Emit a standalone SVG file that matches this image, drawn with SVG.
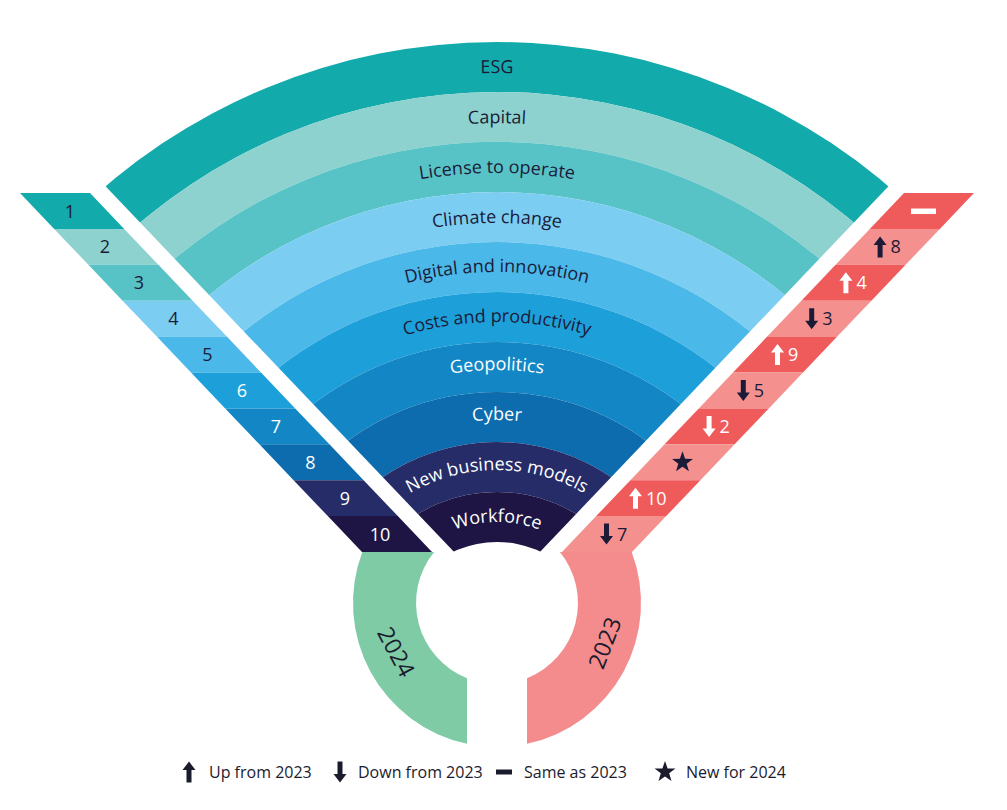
<svg xmlns="http://www.w3.org/2000/svg" xmlns:xlink="http://www.w3.org/1999/xlink" width="1007" height="810" viewBox="0 0 1007 810">
<style>
  text{font-family:"Open Sans","Liberation Sans",sans-serif;font-weight:500;}
  .lbl{font-size:18px;}
  .num{font-size:18px;text-anchor:middle;}
  .rnum{font-size:18px;}
  .dk{fill:#1b1b38;}
  .wh{fill:#ffffff;}
  .leg{font-size:16px;fill:#1b1b2e;}
  .yr{font-size:23px;fill:#1b1b2e;text-anchor:middle;}
</style>
<defs>
  <clipPath id="wedge"><polygon points="497,597 -72,0 1066,0"/></clipPath>
  <path id="aUp" d="M0,-10.5 L6.5,-2 L2.5,-2 L2.5,10.5 L-2.5,10.5 L-2.5,-2 L-6.5,-2 Z"/>
  <path id="aDn" d="M0,10.5 L6.5,2 L2.5,2 L2.5,-10.5 L-2.5,-10.5 L-2.5,2 L-6.5,2 Z"/>
  <path id="star" d="M0,-11 L2.59,-3.56 L10.46,-3.4 L4.18,1.36 L6.47,8.9 L0,4.4 L-6.47,8.9 L-4.18,1.36 L-10.46,-3.4 L-2.59,-3.56 Z"/>
  <path id="p0" d="M-75 645 A572 572 0 0 1 1069 645"/>
  <path id="p1" d="M-25 645 A522 522 0 0 1 1019 645"/>
  <path id="p2" d="M25 645 A472 472 0 0 1 969 645"/>
  <path id="p3" d="M75 645 A422 422 0 0 1 919 645"/>
  <path id="p4" d="M124 645 A373 373 0 0 1 870 645"/>
  <path id="p5" d="M174 645 A323 323 0 0 1 820 645"/>
  <path id="p6" d="M222 645 A275 275 0 0 1 772 645"/>
  <path id="p7" d="M272 645 A225 225 0 0 1 722 645"/>
  <path id="p8" d="M322 645 A175 175 0 0 1 672 645"/>
  <path id="p9" d="M374 645 A123 123 0 0 1 620 645"/>
</defs>
<rect width="1007" height="810" fill="#ffffff"/>

<!-- Fan -->
<g id="fan" clip-path="url(#wedge)" fill-rule="evenodd">
  <g id="band-esg"><path fill="#13aaab" d="M-106 645a603 603 0 1 0 1206 0a603 603 0 1 0 -1206 0Z M-56 645a553 553 0 1 0 1106 0a553 553 0 1 0 -1106 0Z"/></g>
  <g id="band-capital"><path fill="#8dd2ce" d="M-56 645a553 553 0 1 0 1106 0a553 553 0 1 0 -1106 0Z M-6 645a503 503 0 1 0 1006 0a503 503 0 1 0 -1006 0Z"/></g>
  <g id="band-license"><path fill="#58c3c6" d="M-6 645a503 503 0 1 0 1006 0a503 503 0 1 0 -1006 0Z M44 645a453 453 0 1 0 906 0a453 453 0 1 0 -906 0Z"/></g>
  <g id="band-climate"><path fill="#7bcdf2" d="M44 645a453 453 0 1 0 906 0a453 453 0 1 0 -906 0Z M94 645a403 403 0 1 0 806 0a403 403 0 1 0 -806 0Z"/></g>
  <g id="band-digital"><path fill="#4ab8e8" d="M94 645a403 403 0 1 0 806 0a403 403 0 1 0 -806 0Z M144 645a353 353 0 1 0 706 0a353 353 0 1 0 -706 0Z"/></g>
  <g id="band-costs"><path fill="#1da0da" d="M144 645a353 353 0 1 0 706 0a353 353 0 1 0 -706 0Z M194 645a303 303 0 1 0 606 0a303 303 0 1 0 -606 0Z"/></g>
  <g id="band-geopolitics"><path fill="#1387c6" d="M194 645a303 303 0 1 0 606 0a303 303 0 1 0 -606 0Z M244 645a253 253 0 1 0 506 0a253 253 0 1 0 -506 0Z"/></g>
  <g id="band-cyber"><path fill="#0c6cae" d="M244 645a253 253 0 1 0 506 0a253 253 0 1 0 -506 0Z M294 645a203 203 0 1 0 406 0a203 203 0 1 0 -406 0Z"/></g>
  <g id="band-nbm"><path fill="#262c68" d="M294 645a203 203 0 1 0 406 0a203 203 0 1 0 -406 0Z M344 645a153 153 0 1 0 306 0a153 153 0 1 0 -306 0Z"/></g>
  <g id="band-workforce"><path fill="#1e1545" d="M344 645a153 153 0 1 0 306 0a153 153 0 1 0 -306 0Z M394 645a103 103 0 1 0 206 0a103 103 0 1 0 -206 0Z"/></g>
</g>
<g id="fan-labels" class="lbl">
  <text class="dk"><textPath href="#p0" xlink:href="#p0" startOffset="50%" text-anchor="middle">ESG</textPath></text>
  <text class="dk"><textPath href="#p1" xlink:href="#p1" startOffset="50%" text-anchor="middle">Capital</textPath></text>
  <text class="dk"><textPath href="#p2" xlink:href="#p2" startOffset="50%" text-anchor="middle">License to operate</textPath></text>
  <text class="dk"><textPath href="#p3" xlink:href="#p3" startOffset="50%" text-anchor="middle">Climate change</textPath></text>
  <text class="dk"><textPath href="#p4" xlink:href="#p4" startOffset="50%" text-anchor="middle">Digital and innovation</textPath></text>
  <text class="dk"><textPath href="#p5" xlink:href="#p5" startOffset="50%" text-anchor="middle">Costs and productivity</textPath></text>
  <text class="wh"><textPath href="#p6" xlink:href="#p6" startOffset="50%" text-anchor="middle">Geopolitics</textPath></text>
  <text class="wh"><textPath href="#p7" xlink:href="#p7" startOffset="50%" text-anchor="middle">Cyber</textPath></text>
  <text class="wh"><textPath href="#p8" xlink:href="#p8" startOffset="50%" text-anchor="middle">New business models</textPath></text>
  <text class="wh"><textPath href="#p9" xlink:href="#p9" startOffset="50%" text-anchor="middle">Workforce</textPath></text>
</g>

<!-- Left band: 2024 ranks -->
<g id="rank2024">
  <g id="l1"><polygon fill="#13aaab" points="20,193 90,193 124.2,228.9 54.2,228.9"/><text class="num dk" x="70" y="217.5">1</text></g>
  <g id="l2"><polygon fill="#8dd2ce" points="54.2,228.9 124.2,228.9 158.4,264.8 88.4,264.8"/><text class="num dk" x="105" y="253.4">2</text></g>
  <g id="l3"><polygon fill="#58c3c6" points="88.4,264.8 158.4,264.8 192.6,300.7 122.6,300.7"/><text class="num dk" x="139" y="289.3">3</text></g>
  <g id="l4"><polygon fill="#7bcdf2" points="122.6,300.7 192.6,300.7 226.8,336.6 156.8,336.6"/><text class="num dk" x="173.5" y="325.2">4</text></g>
  <g id="l5"><polygon fill="#4ab8e8" points="156.8,336.6 226.8,336.6 261,372.5 191,372.5"/><text class="num dk" x="207.5" y="361.1">5</text></g>
  <g id="l6"><polygon fill="#1da0da" points="191,372.5 261,372.5 295.2,408.4 225.2,408.4"/><text class="num wh" x="242" y="397">6</text></g>
  <g id="l7"><polygon fill="#1387c6" points="225.2,408.4 295.2,408.4 329.4,444.3 259.4,444.3"/><text class="num wh" x="276" y="432.9">7</text></g>
  <g id="l8"><polygon fill="#0c6cae" points="259.4,444.3 329.4,444.3 363.6,480.2 293.6,480.2"/><text class="num wh" x="310.5" y="468.8">8</text></g>
  <g id="l9"><polygon fill="#262c68" points="293.6,480.2 363.6,480.2 397.8,516.1 327.8,516.1"/><text class="num wh" x="345" y="504.7">9</text></g>
  <g id="l10"><polygon fill="#1e1545" points="327.8,516.1 397.8,516.1 432,552 362,552"/><text class="num wh" x="380" y="540.6">10</text></g>
</g>

<!-- Right band: 2023 ranks -->
<g id="rank2023">
  <g id="r1"><polygon fill="#ef5a5b" points="974,193 904,193 869.8,228.9 939.8,228.9"/><rect x="911" y="208.5" width="25" height="5.5" fill="#ffffff"/></g>
  <g id="r2"><polygon fill="#f4918f" points="939.8,228.9 869.8,228.9 835.6,264.8 905.6,264.8"/><use href="#aUp" xlink:href="#aUp" x="880.1" y="246.9" fill="#1b1b38"/><text class="rnum dk" x="890.6" y="253.4">8</text></g>
  <g id="r3"><polygon fill="#ef5a5b" points="905.6,264.8 835.6,264.8 801.4,300.7 871.4,300.7"/><use href="#aUp" xlink:href="#aUp" x="845.9" y="282.8" fill="#ffffff"/><text class="rnum wh" x="856.4" y="289.3">4</text></g>
  <g id="r4"><polygon fill="#f4918f" points="871.4,300.7 801.4,300.7 767.2,336.6 837.2,336.6"/><use href="#aDn" xlink:href="#aDn" x="811.7" y="318.7" fill="#1b1b38"/><text class="rnum dk" x="822.2" y="325.2">3</text></g>
  <g id="r5"><polygon fill="#ef5a5b" points="837.2,336.6 767.2,336.6 733,372.5 803,372.5"/><use href="#aUp" xlink:href="#aUp" x="777.5" y="354.6" fill="#ffffff"/><text class="rnum wh" x="788" y="361.1">9</text></g>
  <g id="r6"><polygon fill="#f4918f" points="803,372.5 733,372.5 698.8,408.4 768.8,408.4"/><use href="#aDn" xlink:href="#aDn" x="743.3" y="390.5" fill="#1b1b38"/><text class="rnum dk" x="753.8" y="397">5</text></g>
  <g id="r7"><polygon fill="#ef5a5b" points="768.8,408.4 698.8,408.4 664.6,444.3 734.6,444.3"/><use href="#aDn" xlink:href="#aDn" x="709.1" y="426.4" fill="#ffffff"/><text class="rnum wh" x="719.6" y="432.9">2</text></g>
  <g id="r8"><polygon fill="#f4918f" points="734.6,444.3 664.6,444.3 630.4,480.2 700.4,480.2"/><use href="#star" xlink:href="#star" x="682.5" y="462.3" fill="#1b1b38"/></g>
  <g id="r9"><polygon fill="#ef5a5b" points="700.4,480.2 630.4,480.2 596.2,516.1 666.2,516.1"/><use href="#aUp" xlink:href="#aUp" x="635.5" y="498.2" fill="#ffffff"/><text class="rnum wh" x="646" y="504.7">10</text></g>
  <g id="r10"><polygon fill="#f4918f" points="666.2,516.1 596.2,516.1 562,552 632,552"/><use href="#aDn" xlink:href="#aDn" x="606.5" y="534.1" fill="#1b1b38"/><text class="rnum dk" x="617" y="540.6">7</text></g>
</g>

<!-- Year ring -->
<g id="ring2024">
  <path fill="#7ecba6" d="M362.3 552 L434.1 552 A81 81 0 0 0 467 678.2 L467 743.8 A144 144 0 0 1 362.3 552 Z"/>
  <text class="yr" transform="translate(396 652) rotate(62)" y="8">2024</text>
</g>
<g id="ring2023">
  <path fill="#f48b8d" d="M631.7 552 L559.9 552 A81 81 0 0 1 527 678.2 L527 743.8 A144 144 0 0 0 631.7 552 Z"/>
  <text class="yr" transform="translate(605 643) rotate(-69)" y="8">2023</text>
</g>

<g id="connectors"></g>

<!-- Legend -->
<g id="legend">
  <use href="#aUp" xlink:href="#aUp" x="189" y="772" fill="#1b1b2e"/>
  <text class="leg" x="209" y="778">Up from 2023</text>
  <use href="#aDn" xlink:href="#aDn" x="340" y="772" fill="#1b1b2e"/>
  <text class="leg" x="358" y="778">Down from 2023</text>
  <rect x="496" y="769.5" width="16" height="5" fill="#1b1b2e"/>
  <text class="leg" x="524" y="778">Same as 2023</text>
  <use href="#star" xlink:href="#star" x="665" y="772" fill="#1b1b2e"/>
  <text class="leg" x="686" y="778">New for 2024</text>
</g>
</svg>
